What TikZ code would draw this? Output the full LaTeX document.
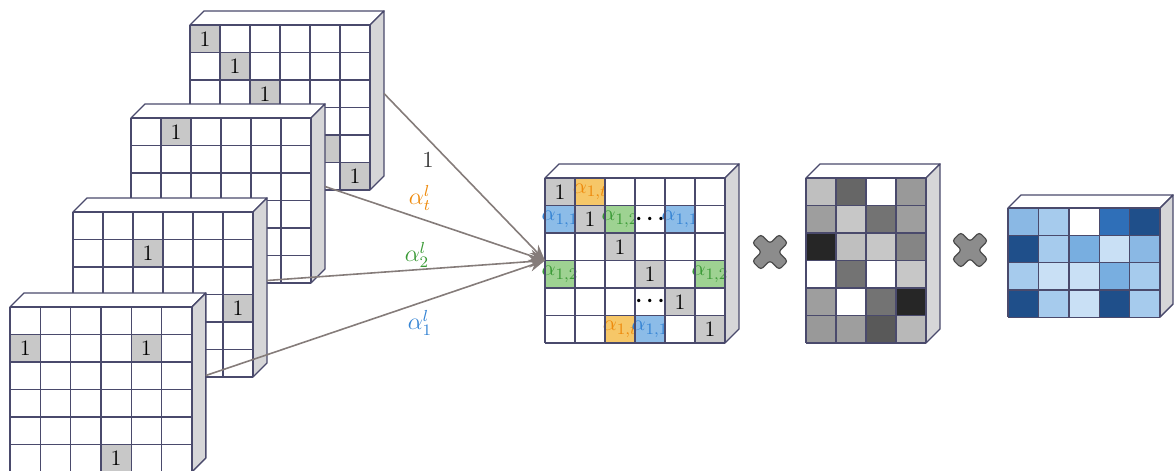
\documentclass[tikz,border=0pt]{standalone}
\usepackage{bm}
\usetikzlibrary{arrows.meta}
\definecolor{gridc}{HTML}{4A4A6C}
\definecolor{sidec}{HTML}{D6D6D8}
\definecolor{connc}{HTML}{857C7A}
\definecolor{cellg}{HTML}{C8C8C8}
\definecolor{cello}{HTML}{F6C768}
\definecolor{cellb}{HTML}{8CBCE8}
\definecolor{cellgr}{HTML}{9ED292}
\definecolor{txto}{HTML}{EE8A0C}
\definecolor{txtb}{HTML}{3584D4}
\definecolor{txtg}{HTML}{3A9A36}
\definecolor{bA}{HTML}{1F4F8A}
\definecolor{bB}{HTML}{2F6FB8}
\definecolor{bC}{HTML}{78AEE0}
\definecolor{bD}{HTML}{8AB8E4}
\definecolor{bE}{HTML}{A6CBED}
\definecolor{bF}{HTML}{C9E0F5}
\tikzset{
  gridline/.style={draw=gridc, line width=0.7pt},
  slabface/.style={fill=white, draw=gridc, line width=0.7pt, line join=round},
  slabside/.style={fill=sidec, draw=gridc, line width=0.7pt, line join=round},
  cellnum/.style={font=\fontsize{11}{13}\selectfont, inner sep=0pt},
  lbl/.style={font=\fontsize{11.5}{13}\selectfont, inner sep=1pt},
  conn/.style={draw=connc, line width=0.8pt, -{Stealth[length=8pt,width=6pt]}},
  timesmark/.style={fill=black!45, draw=black!70, line width=0.6pt, rounded corners=1.5pt}
}
\newcommand\ablue{\textcolor{txtb}{\fontsize{10.8}{12}\selectfont$\alpha_{1,1}$}}
\newcommand\agreen{\textcolor{txtg}{\fontsize{10.8}{12}\selectfont$\alpha_{1,2}$}}
\newcommand\aorange{\textcolor{txto}{\fontsize{10.8}{12}\selectfont$\alpha_{1,t}$}}
\newcommand\cdotsb{$\bm{\cdots}$}
\def\dep{14}
% #1 name, #2 x, #3 y, #4 cols, #5 rows, #6 cell w, #7 cell h, #8 cells col/row/fill/text
\newcommand\slab[8]{%
  \filldraw[slabface] (#2,#3) -- ++(\dep,-\dep) -- ++(#4*#6,0) -- ++(-\dep,\dep) -- cycle;
  \filldraw[slabside] (#2+#4*#6,#3) -- ++(\dep,-\dep) -- ++(0,#5*#7) -- ++(-\dep,\dep) -- cycle;
  \fill[white] (#2,#3) rectangle ++(#4*#6,#5*#7);
  \foreach \cx/\ry/\fc/\lab in {#8} {
    \fill[\fc] (#2+\cx*#6,#3+\ry*#7) rectangle ++(#6,#7);
    \ifx\lab\empty\else
      \node[cellnum] (#1-\cx-\ry) at (#2+\cx*#6+#6/2,#3+\ry*#7+#7/2) {\lab};
    \fi
  }
  \foreach \i in {0,...,#4} \draw[gridline] (#2+\i*#6,#3) -- ++(0,#5*#7);
  \foreach \j in {0,...,#5} \draw[gridline] (#2,#3+\j*#7) -- ++(#4*#6,0);
  \coordinate (#1-w) at (#2,#3+#5*#7/2);
  \coordinate (#1-e) at (#2+#4*#6+\dep,#3-\dep+#5*#7/2);
}
\newcommand\timesat[2]{%
  \filldraw[timesmark, shift={(#1,#2)}, rotate=45]
    (6,6) -- (19,6) -- (19,-6) -- (6,-6) -- (6,-19) -- (-6,-19) -- (-6,-6)
    -- (-19,-6) -- (-19,6) -- (-6,6) -- (-6,19) -- (6,19) -- cycle;
}
\begin{document}
\begin{tikzpicture}[x=0.5pt, y=-0.5pt]
  \useasboundingbox (0,0) rectangle (1174,471);
  % stacked one-hot matrices
  \slab{s1}{190}{25}{6}{6}{30}{27.5}{0/0/cellg/1, 1/1/cellg/1, 2/2/cellg/1, 3/3/cellg/, 4/4/cellg/, 5/5/cellg/1}
  \slab{s2}{131}{118}{6}{6}{30}{27.5}{1/0/cellg/1}
  \slab{s3}{73}{212}{6}{6}{30}{27.5}{2/1/cellg/1, 5/3/cellg/1}
  \slab{s4}{10}{307}{6}{6}{30.3}{27.5}{0/1/cellg/1, 4/1/cellg/1, 3/5/cellg/1}
  % weighted sum
  \slab{mid}{545}{178}{6}{6}{30}{27.5}{0/0/cellg/1, 1/0/cello/\aorange, 0/1/cellb/\ablue, 1/1/cellg/1,
    2/1/cellgr/\agreen, 3/1/white/\cdotsb, 4/1/cellb/\ablue, 2/2/cellg/1, 0/3/cellgr/\agreen,
    3/3/cellg/1, 5/3/cellgr/\agreen, 3/4/white/\cdotsb, 4/4/cellg/1, 2/5/cello/\aorange,
    3/5/cellb/\ablue, 5/5/cellg/1}
  \slab{gm}{806}{178}{4}{6}{30}{27.5}{0/0/black!25/, 1/0/black!60/, 2/0/white/, 3/0/black!40/,
    0/1/black!38/, 1/1/black!22/, 2/1/black!55/, 3/1/black!38/,
    0/2/black!85/, 1/2/black!25/, 2/2/black!22/, 3/2/black!48/,
    0/3/white/, 1/3/black!55/, 2/3/white/, 3/3/black!22/,
    0/4/black!38/, 1/4/white/, 2/4/black!55/, 3/4/black!85/,
    0/5/black!40/, 1/5/black!38/, 2/5/black!65/, 3/5/black!28/}
  \def\dep{13}
  \slab{bm}{1008}{208}{5}{4}{30.4}{27.3}{0/0/bD/, 1/0/bE/, 2/0/white/, 3/0/bB/, 4/0/bA/,
    0/1/bA/, 1/1/bE/, 2/1/bC/, 3/1/bF/, 4/1/bD/,
    0/2/bE/, 1/2/bF/, 2/2/bF/, 3/2/bC/, 4/2/bE/,
    0/3/bA/, 1/3/bE/, 2/3/bF/, 3/3/bA/, 4/3/bE/}
  % connectors
  \draw[conn] (s1-e) -- (mid-w);
  \draw[conn] (s2-e) -- (mid-w);
  \draw[conn] (s3-e) -- (mid-w);
  \draw[conn] (s4-e) -- (mid-w);
  \node[lbl, text=black!80] (lab-one) at (428,160) {1};
  \node[lbl, text=txto] (lab-t) at (420,198) {$\alpha_t^l$};
  \node[lbl, text=txtg] (lab-2) at (417,255) {$\alpha_2^l$};
  \node[lbl, text=txtb] (lab-1) at (420,323) {$\alpha_1^l$};
  % products
  \timesat{770}{252}
  \timesat{970}{250}
\end{tikzpicture}
\end{document}
